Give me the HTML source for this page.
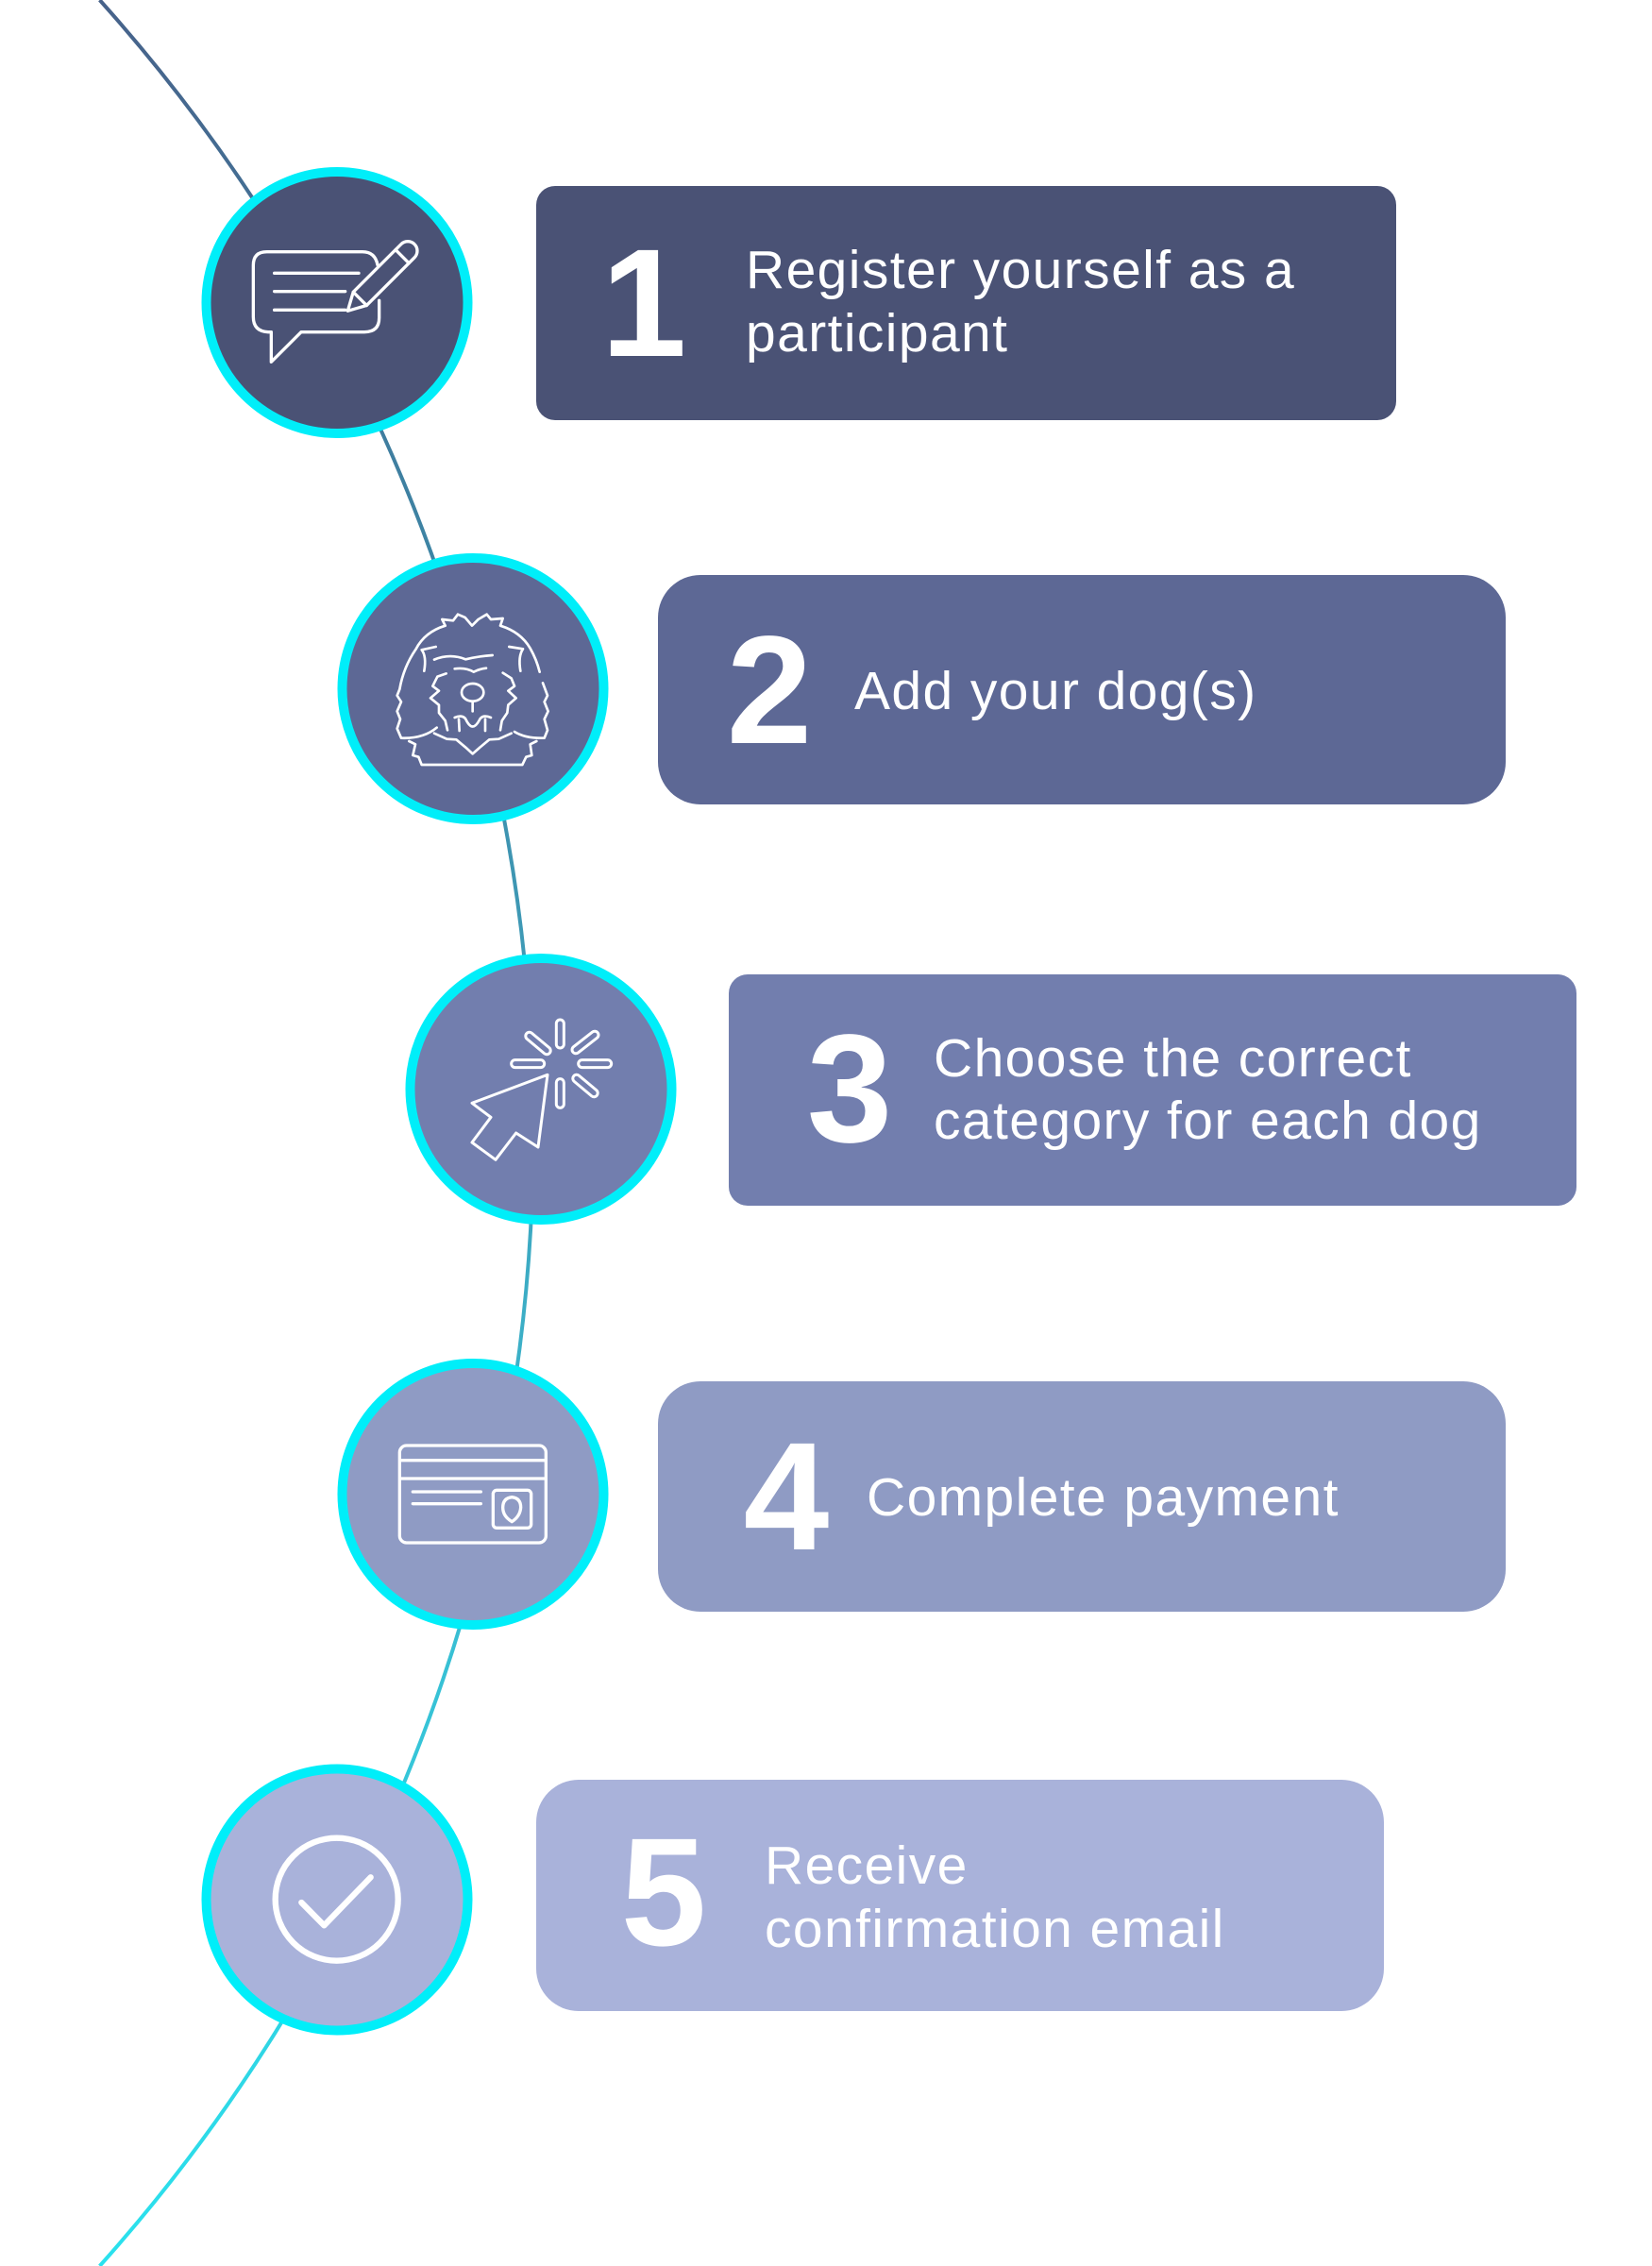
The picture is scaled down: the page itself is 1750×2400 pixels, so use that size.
<!DOCTYPE html>
<html>
<head>
<meta charset="utf-8">
<style>
  html, body { margin: 0; padding: 0; background: #ffffff; }
  body { width: 1750px; height: 2400px; overflow: hidden; }
  svg { display: block; }
  .t { font-family: "Liberation Sans", sans-serif; font-size: 57px; fill: #ffffff; letter-spacing: 1.4px; }
  .n { font-family: "Liberation Sans", sans-serif; font-size: 163px; font-weight: bold; fill: #ffffff; }
</style>
</head>
<body>
<svg width="1750" height="2400" viewBox="0 0 1750 2400" xmlns="http://www.w3.org/2000/svg">
  <defs>
    <linearGradient id="lg" gradientUnits="userSpaceOnUse" x1="0" y1="0" x2="0" y2="2400">
      <stop offset="0" stop-color="#47628a"/>
      <stop offset="0.25" stop-color="#3d85a5"/>
      <stop offset="0.5" stop-color="#3ea4be"/>
      <stop offset="0.75" stop-color="#37c2d6"/>
      <stop offset="1" stop-color="#2ae2ee"/>
    </linearGradient>
  </defs>

  <!-- big arc -->
  <path d="M 105.6 0 A 1797 1797 0 0 1 105.6 2400" fill="none" stroke="url(#lg)" stroke-width="4"/>

  <!-- boxes -->
  <rect x="568" y="197" width="911" height="248" rx="20" ry="20" fill="#4a5275"/>
  <rect x="697" y="609" width="898" height="243" rx="45" ry="45" fill="#5d6895"/>
  <rect x="772" y="1032" width="898" height="245" rx="20" ry="20" fill="#727eae"/>
  <rect x="697" y="1463" width="898" height="244" rx="45" ry="45" fill="#8f9bc4"/>
  <rect x="568" y="1885" width="898" height="245" rx="45" ry="45" fill="#a9b2da"/>

  <!-- numbers -->
  <text class="n" x="682" y="377" text-anchor="middle">1</text>
  <text class="n" x="815" y="787" text-anchor="middle">2</text>
  <text class="n" x="900" y="1209" text-anchor="middle">3</text>
  <text class="n" x="833" y="1641" text-anchor="middle">4</text>
  <text class="n" x="703" y="2060" text-anchor="middle">5</text>

  <!-- labels -->
  <text class="t" x="790" y="305">Register yourself as a</text>
  <text class="t" x="790" y="372">participant</text>
  <text class="t" x="905" y="751">Add your dog(s)</text>
  <text class="t" x="989" y="1140">Choose the correct</text>
  <text class="t" x="989" y="1206">category for each dog</text>
  <text class="t" x="918" y="1605">Complete payment</text>
  <text class="t" x="810" y="1995">Receive</text>
  <text class="t" x="810" y="2062">confirmation email</text>

  <!-- circles -->
  <circle cx="357" cy="320.5" r="138.5" fill="#4a5275" stroke="#00eef9" stroke-width="10"/>
  <circle cx="501" cy="729.5" r="138.5" fill="#5d6895" stroke="#00eef9" stroke-width="10"/>
  <circle cx="573" cy="1153.5" r="138.5" fill="#727eae" stroke="#00eef9" stroke-width="10"/>
  <circle cx="501" cy="1582.5" r="138.5" fill="#8f9bc4" stroke="#00eef9" stroke-width="10"/>
  <circle cx="357" cy="2012" r="138.5" fill="#a9b2da" stroke="#00eef9" stroke-width="10"/>

  <!-- icon 1: speech bubble + pencil -->
  <g transform="translate(200,170) scale(0.33333)" fill="none" stroke="#ffffff" stroke-width="10" stroke-linecap="round" stroke-linejoin="round">
    <path d="M 600 332 Q 592 290 552 290 L 248 290 Q 205 290 205 333 L 205 497 Q 205 543 252 545 L 262 545 L 262 640 L 357 545 L 558 545 Q 605 545 605 500 L 605 445"/>
    <path d="M 272 358 L 540 358 M 272 416 L 497 416 M 272 475 L 497 475"/>
    <g transform="translate(505,478) rotate(-45)">
      <path d="M 0 0 L 55 -30 L 270 -30 A 30 30 0 0 1 270 30 L 55 30 Z" fill="#4a5275"/>
      <path d="M 55 -30 L 55 30 M 245 -30 L 245 30"/>
    </g>
  </g>

  <!-- icon 2: dog -->
  <g transform="translate(350,580) scale(0.33333)" fill="none" stroke="#ffffff" stroke-width="8" stroke-linecap="round" stroke-linejoin="round">
    <path d="M 365 248 L 355 228 L 390 232 L 405 212 L 428 222 L 450 248 L 470 228 L 497 212 L 510 228 L 548 225 L 540 248 Q 605 268 635 320 Q 655 355 665 395"/>
    <path d="M 365 248 Q 300 268 272 322 Q 232 380 220 450 L 212 470 L 225 490 L 212 520 L 222 545 L 212 575 L 225 605 Q 295 608 338 572"/>
    <path d="M 335 315 L 290 325 Q 306 345 298 392"/>
    <path d="M 568 315 L 612 322 Q 596 345 604 392"/>
    <path d="M 675 430 L 690 470 L 680 490 L 692 520 L 680 545 L 690 580 L 680 605 Q 620 607 585 585"/>
    <path d="M 330 356 Q 380 335 430 355 Q 470 345 515 342"/>
    <path d="M 395 385 Q 430 380 455 395 Q 475 385 495 383"/>
    <path d="M 368 400 L 340 410 L 325 440 L 345 455 L 318 478 L 345 500 L 345 525 L 365 550 L 372 580"/>
    <path d="M 548 398 L 575 415 L 585 440 L 565 455 L 590 478 L 565 500 L 562 525 L 545 550 L 540 580"/>
    <path d="M 408 545 L 410 582 M 492 545 L 492 582"/>
    <ellipse cx="452" cy="460" rx="35" ry="28"/>
    <path d="M 452 488 L 452 520"/>
    <path d="M 395 540 Q 420 530 430 545 Q 452 592 475 545 Q 485 530 510 540"/>
    <path d="M 330 590 L 370 608 L 400 610 L 430 635 L 452 655 L 475 635 L 505 610 L 535 608 L 575 590"/>
    <path d="M 250 615 L 270 625 L 262 660 L 280 665 L 290 690 L 610 690 L 622 665 L 640 660 L 635 625 L 655 615"/>
  </g>

  <!-- icon 3: cursor click -->
  <g transform="translate(420,1000) scale(0.33333)" fill="none" stroke="#ffffff" stroke-width="9" stroke-linecap="round" stroke-linejoin="round">
    <path d="M 480 415 L 240 505 L 300 550 L 240 630 L 315 685 L 380 600 L 450 645 Z"/>
    <rect x="508" y="240" width="24" height="90" rx="12"/>
    <rect x="508" y="428" width="24" height="92" rx="12"/>
    <rect x="365" y="368" width="105" height="24" rx="12"/>
    <rect x="578" y="368" width="105" height="24" rx="12"/>
    <rect x="402" y="303" width="96" height="24" rx="12" transform="rotate(40 450 315)"/>
    <rect x="550" y="300" width="100" height="24" rx="12" transform="rotate(-38 600 312)"/>
    <rect x="552" y="438" width="96" height="24" rx="12" transform="rotate(40 600 450)"/>
  </g>

  <!-- icon 4: card -->
  <g transform="translate(350,1430) scale(0.33333)" fill="none" stroke="#ffffff" stroke-width="10" stroke-linecap="round" stroke-linejoin="round">
    <rect x="220" y="303" width="465" height="309" rx="22"/>
    <path d="M 222 350 L 683 350 M 222 408 L 683 408"/>
    <path d="M 262 450 L 478 450 M 262 488 L 478 488"/>
    <rect x="517" y="445" width="121" height="120" rx="12"/>
    <path d="M 577 467 Q 605 470 605 500 Q 603 528 577 545 Q 548 528 548 500 Q 548 470 577 467 Z"/>
  </g>

  <!-- icon 5: check -->
  <g transform="translate(200,1860) scale(0.33333)" fill="none" stroke="#ffffff" stroke-width="19" stroke-linecap="round" stroke-linejoin="round">
    <circle cx="470" cy="455" r="195"/>
    <path d="M 358 465 L 430 538 L 578 385"/>
  </g>
</svg>
</body>
</html>
